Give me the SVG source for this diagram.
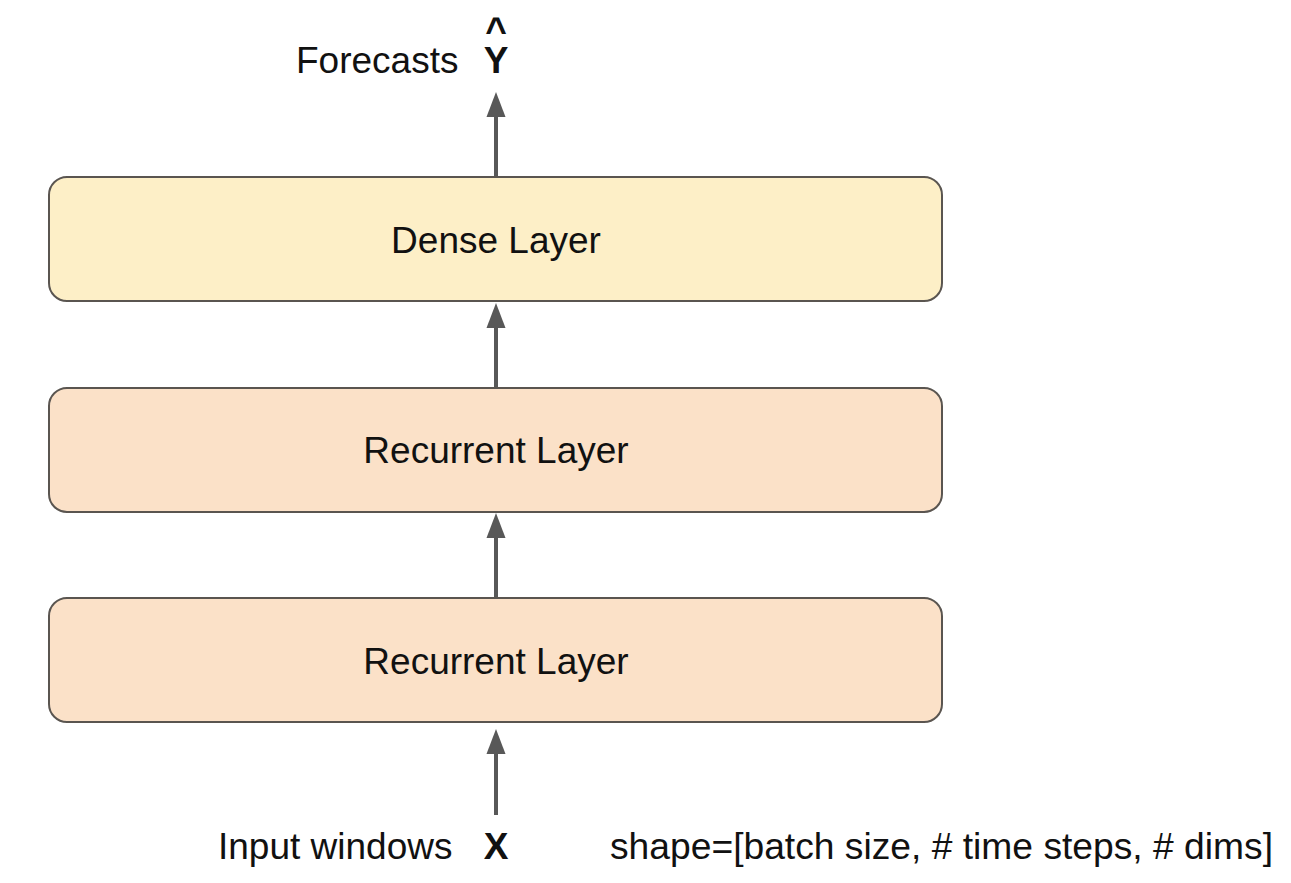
<svg xmlns="http://www.w3.org/2000/svg" width="1291" height="883" viewBox="0 0 1291 883">
<style>
.box{stroke:#5a5550;stroke-width:2}
.dense{fill:#fdefc7}
.rec{fill:#fbe1c8}
.t{font-family:"Liberation Sans",Arial,sans-serif;font-size:37px;fill:#111}
.b{font-weight:bold}
.c{text-anchor:middle}
.conn{stroke:#585858;stroke-width:4;fill:none}
.head{fill:#585858}
</style>
<rect width="1291" height="883" fill="#ffffff"/>
<g id="connectors">
<line class="conn" x1="496" y1="177" x2="496" y2="108"/>
<path class="head" d="M486.5,117 L496,92 L505.5,117 Z"/>
<line class="conn" x1="496" y1="388" x2="496" y2="320"/>
<path class="head" d="M486.5,328 L496,303 L505.5,328 Z"/>
<line class="conn" x1="496" y1="598" x2="496" y2="530"/>
<path class="head" d="M486.5,538 L496,513 L505.5,538 Z"/>
<line class="conn" x1="496" y1="815" x2="496" y2="745"/>
<path class="head" d="M486.5,754 L496,729 L505.5,754 Z"/>
</g>
<g id="dense">
<rect class="box dense" x="49" y="177" width="893" height="124" rx="18"/>
<text class="t c" x="496" y="253">Dense Layer</text>
</g>
<g id="recurrent2">
<rect class="box rec" x="49" y="388" width="893" height="124" rx="18"/>
<text class="t c" x="496" y="463">Recurrent Layer</text>
</g>
<g id="recurrent1">
<rect class="box rec" x="49" y="598" width="893" height="124" rx="18"/>
<text class="t c" x="496" y="674">Recurrent Layer</text>
</g>
<g id="output">
<text class="t" x="296" y="73">Forecasts</text>
<text class="t b c" x="496" y="73">Y</text>
<text class="t b c" x="496" y="43">^</text>
</g>
<g id="input">
<text class="t" x="218" y="859">Input windows</text>
<text class="t b c" x="496" y="859">X</text>
<text class="t" x="610" y="859" textLength="663" lengthAdjust="spacingAndGlyphs">shape=[batch size, # time steps, # dims]</text>
</g>
</svg>
